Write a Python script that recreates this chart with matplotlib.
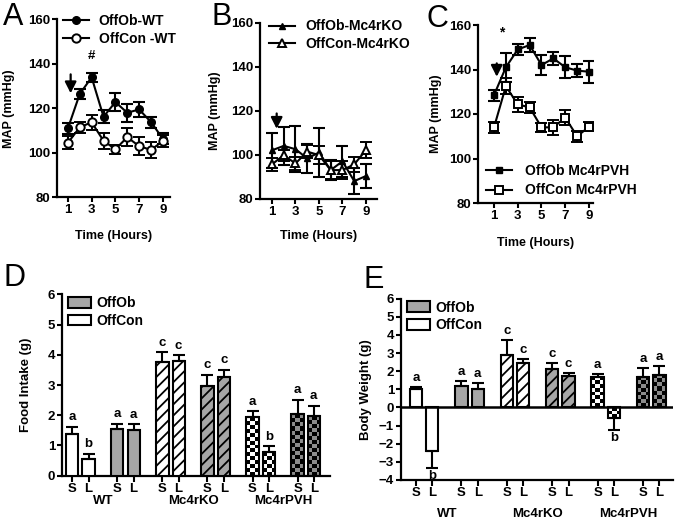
import numpy as np
import matplotlib
matplotlib.use("Agg")
import matplotlib.pyplot as plt
from matplotlib.patches import Patch
from matplotlib.lines import Line2D
from matplotlib.colors import ListedColormap
from matplotlib.transforms import blended_transform_factory

plt.rcParams['font.family'] = ['Liberation Sans', 'DejaVu Sans']
plt.rcParams['font.weight'] = 'bold'
plt.rcParams['axes.labelweight'] = 'bold'
plt.rcParams['font.size'] = 9
plt.rcParams['hatch.linewidth'] = 1.3

# ---------- data ----------
hours = [1, 2, 3, 4, 5, 6, 7, 8, 9]

a_ob = [111.0, 126.5, 133.9, 116.2, 122.8, 118.0, 119.5, 113.8, 106.3]
a_ob_err = [2.5, 2.3, 2.0, 3.0, 4.0, 4.0, 3.5, 2.5, 2.5]
a_con = [104.5, 111.5, 113.7, 105.4, 101.6, 107.0, 103.0, 101.3, 105.3]
a_con_err = [3.0, 2.5, 3.5, 3.5, 2.0, 4.0, 4.0, 3.5, 2.5]

b_ob = [102.0, 104.0, 102.5, 98.3, 101.0, 93.0, 97.0, 88.0, 90.3]
b_ob_err = [8.0, 8.5, 10.5, 6.5, 11.0, 4.5, 7.0, 6.0, 5.5]
b_con = [95.6, 99.8, 96.0, 101.4, 99.8, 93.0, 93.0, 95.6, 102.1]
b_con_err = [3.0, 2.5, 3.0, 3.0, 4.0, 4.0, 4.0, 3.5, 3.5]

c_ob = [128.5, 141.0, 149.0, 151.0, 142.0, 145.0, 141.0, 139.5, 139.0]
c_ob_err = [2.5, 6.5, 2.5, 3.0, 4.5, 3.0, 5.0, 3.0, 5.0]
c_con = [114.0, 132.5, 124.3, 123.0, 114.0, 114.0, 118.4, 110.0, 114.2]
c_con_err = [2.5, 3.5, 3.5, 2.5, 2.0, 3.5, 3.5, 2.5, 2.0]

# bar groups: WT OffCon, WT OffOb, KO OffCon, KO OffOb, PVH OffCon, PVH OffOb
food_S = [1.37, 1.54, 3.75, 2.98, 1.93, 2.04]
food_S_err = [0.25, 0.17, 0.33, 0.35, 0.20, 0.48]
food_L = [0.54, 1.52, 3.80, 3.27, 0.79, 1.97]
food_L_err = [0.19, 0.18, 0.18, 0.24, 0.18, 0.35]
food_S_sig = ['a', 'a', 'c', 'c', 'a', 'a']
food_L_sig = ['b', 'a', 'c', 'c', 'b', 'a']

bw_S = [1.02, 1.20, 2.88, 2.14, 1.70, 1.70]
bw_S_err = [0.10, 0.25, 0.84, 0.33, 0.15, 0.50]
bw_L = [-2.40, 1.00, 2.44, 1.76, -0.56, 1.77]
bw_L_err = [0.95, 0.37, 0.23, 0.16, 0.68, 0.52]
bw_S_sig = ['a', 'a', 'c', 'c', 'a', 'a']
bw_L_sig = ['b', 'a', 'c', 'c', 'b', 'a']

groups = ['WT', 'Mc4rKO', 'Mc4rPVH']
bar_face = ['white', '#a6a6a6', 'white', '#a6a6a6', 'white', '#8c8c8c']
bar_hatch = [None, None, '///', '///', 'checker', 'checker']

# ---------- figure ----------
W, H = 677, 522
fig = plt.figure(figsize=(W / 100, H / 100), dpi=100)


def px_axes(x0, y0, x1, y1):
    return fig.add_axes([x0 / W, 1 - y1 / H, (x1 - x0) / W, (y1 - y0) / H])


def style(ax):
    for s in ['top', 'right']:
        ax.spines[s].set_visible(False)
    for s in ['left', 'bottom']:
        ax.spines[s].set_linewidth(1.6)
    ax.tick_params(direction='out', length=3.5, width=1.5, labelsize=9.5, pad=1.5)


def line_panel(ax, ob, ob_err, con, con_err, marker, ms, xlim):
    ax.errorbar(hours, ob, yerr=ob_err, color='k', marker=marker, ms=ms,
                mfc='k', mec='k', lw=1.5, elinewidth=1.5, capsize=4.5, capthick=1.5)
    ax.errorbar(hours, con, yerr=con_err, color='k', marker=marker, ms=ms + 0.5,
                mfc='white', mec='k', mew=1.4, lw=1.5, elinewidth=1.5,
                capsize=4.5, capthick=1.5)
    ax.set_xlim(*xlim)
    ax.set_ylim(80, 160)
    ax.set_xticks([1, 3, 5, 7, 9])
    ax.set_yticks([80, 100, 120, 140, 160])
    style(ax)
    ax.set_ylabel('MAP (mmHg)', fontsize=9)
    ax.set_xlabel('Time (Hours)', fontsize=9)
    handles = [Line2D([], [], color='k', marker=marker, ms=ms, mfc='k', lw=1.5),
               Line2D([], [], color='k', marker=marker, ms=ms + 0.5, mfc='white', mew=1.4, lw=1.5)]
    return handles


arrow = dict(arrowstyle='-|>,head_width=0.38,head_length=0.75', lw=1.6, color='k')

# Panel A
axA = px_axes(57, 19.3, 170, 197.3)
h = line_panel(axA, a_ob, a_ob_err, a_con, a_con_err, 'o', 5.5, (0.08, 9.6))
axA.legend(h, ['OffOb-WT', 'OffCon -WT'], loc='upper left', bbox_to_anchor=(0.0, 1.06),
           frameon=False, handlelength=1.9, borderaxespad=0, labelspacing=0.3,
           handletextpad=0.7, fontsize=10)
axA.annotate('', xy=(1.23, 125.5), xytext=(1.23, 136.5), arrowprops=arrow)
axA.text(3, 143.5, '#', ha='center', va='center', fontsize=9.5)
axA.yaxis.set_label_coords(-0.37, 0.5)
axA.xaxis.set_label_coords(0.5, -0.185)

# Panel B
axB = px_axes(260, 22.7, 377, 198.7)
h = line_panel(axB, b_ob, b_ob_err, b_con, b_con_err, '^', 5, (-0.02, 9.94))
axB.legend(h, ['OffOb-Mc4rKO', 'OffCon-Mc4rKO'], loc='upper left', bbox_to_anchor=(0.03, 1.05),
           frameon=False, handlelength=1.9, borderaxespad=0, labelspacing=0.25,
           handletextpad=0.7, fontsize=10)
axB.annotate('', xy=(1.4, 110.5), xytext=(1.4, 120), arrowprops=arrow)
axB.yaxis.set_label_coords(-0.33, 0.5)
axB.xaxis.set_label_coords(0.5, -0.178)

# Panel C
axC = px_axes(478, 25, 593, 203)
h = line_panel(axC, c_ob, c_ob_err, c_con, c_con_err, 's', 5, (-0.35, 9.34))
axC.legend(h, ['OffOb Mc4rPVH', 'OffCon Mc4rPVH'], loc='lower left', bbox_to_anchor=(0.02, 0.0),
           frameon=False, handlelength=1.9, borderaxespad=0, labelspacing=0.4,
           handletextpad=0.9, fontsize=10)
axC.annotate('', xy=(1.23, 135.5), xytext=(1.23, 144), arrowprops=arrow)
axC.text(1.65, 156.5, '*', ha='center', va='center', fontsize=10)
axC.yaxis.set_label_coords(-0.31, 0.5)
axC.xaxis.set_label_coords(0.5, -0.19)


# ---------- bar panels ----------
def checker_bar(ax, x, w, h, face, cell_px, px_per_x, px_per_y):
    ncols = max(1, int(round(w * px_per_x / cell_px)))
    nrows = max(1, int(round(abs(h) * px_per_y / cell_px)))
    arr = (np.add.outer(np.arange(nrows), np.arange(ncols)) % 2).astype(float)
    cmap = ListedColormap([face, 'black'])
    y0, y1 = (0, h) if h >= 0 else (h, 0)
    ax.imshow(arr, extent=(x - w / 2, x + w / 2, y0, y1), cmap=cmap, vmin=0, vmax=1,
              interpolation='nearest', aspect='auto', zorder=2, origin='lower')


def bar_panel(ax, S, S_err, L, L_err, S_sig, L_sig, xlim, ylim, px_per_x, px_per_y, sig_off):
    off = 0.18
    w = 0.27
    pos = np.arange(len(S))
    for i in pos:
        for xi, val, err, sig in [(i - off, S[i], S_err[i], S_sig[i]),
                                  (i + off, L[i], L_err[i], L_sig[i])]:
            hatch = bar_hatch[i]
            if hatch == 'checker':
                checker_bar(ax, xi, w, val, bar_face[i], 4, px_per_x, px_per_y)
                ax.bar(xi, val, w, facecolor='none', edgecolor='k', lw=1.5, zorder=3)
            else:
                ax.bar(xi, val, w, facecolor=bar_face[i], edgecolor='k', lw=1.5,
                       hatch=hatch, zorder=3)
            if val >= 0:
                yerr = [[0], [err]]
                ax.text(xi, val + err + sig_off, sig, ha='center', va='bottom', fontsize=9.5)
            else:
                yerr = [[err], [0]]
                ax.text(xi, val - err - sig_off + 0.05, sig, ha='center', va='top', fontsize=9.5)
            ax.errorbar(xi, val, yerr=yerr, color='k', elinewidth=1.5, capsize=4,
                        capthick=1.5, zorder=4)
    ticks = []
    for i in pos:
        ticks += [i - off, i + off]
    ax.set_xticks(ticks)
    ax.set_xticklabels(['S', 'L'] * len(S))
    ax.set_xlim(*xlim)
    ax.set_ylim(*ylim)
    style(ax)
    return blended_transform_factory(ax.transData, ax.transAxes)


axD = px_axes(62, 294.3, 330, 475.7)
tr = bar_panel(axD, food_S, food_S_err, food_L, food_L_err, food_S_sig, food_L_sig,
               (-0.41, 5.54), (0, 6), 45, 30.2, 0.12)
axD.set_yticks(range(0, 7))
axD.set_ylabel('Food Intake (g)', fontsize=9.5)
axD.yaxis.set_label_coords(-0.112, 0.5)
for gi, g in enumerate(groups):
    axD.text(2 * gi + 0.5, -0.14, g, transform=tr, ha='center', va='center', fontsize=9.5)

axE = px_axes(401, 298.7, 673, 480)
tr = bar_panel(axE, bw_S, bw_S_err, bw_L, bw_L_err, bw_S_sig, bw_L_sig,
               (-0.51, 5.48), (-4, 6), 45.4, 18.1, 0.15)
axE.axhline(0, color='k', lw=1.8, zorder=5)
axE.set_yticks(range(-4, 7))
axE.set_ylabel('Body Weight (g)', fontsize=9.5)
axE.yaxis.set_label_coords(-0.107, 0.5)
for gi, g in enumerate(groups):
    axE.text(2 * gi + 0.5, -0.185, g, transform=tr, ha='center', va='center', fontsize=9.5)

for ax in [axD, axE]:
    ax.tick_params(axis='x', length=4, pad=1)
    ax.legend([Patch(facecolor='#a6a6a6', edgecolor='k', lw=1.5),
               Patch(facecolor='white', edgecolor='k', lw=1.5)],
              ['OffOb', 'OffCon'], loc='upper left', bbox_to_anchor=(0.0, 1.02),
              frameon=False, borderaxespad=0, handlelength=1.7, handleheight=0.8,
              labelspacing=0.25, handletextpad=0.4, fontsize=10)

# panel letters
for letter, xp, yp in [('A', 13, 17), ('B', 222, 17), ('C', 437, 19), ('D', 14, 278), ('E', 374, 280)]:
    fig.text(xp / W, 1 - yp / H, letter, fontsize=22, fontweight='normal',
             ha='center', va='center')

fig.savefig('out.png', dpi=100)
